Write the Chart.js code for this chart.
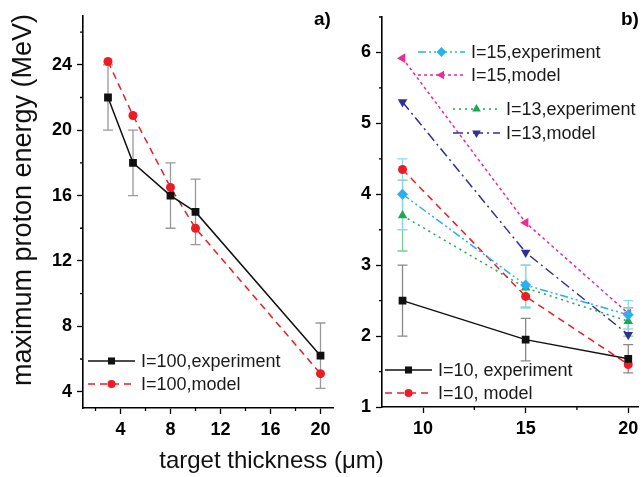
<!DOCTYPE html>
<html>
<head>
<meta charset="utf-8">
<script src="https://cdn.jsdelivr.net/npm/chart.js@4.4.1/dist/chart.umd.min.js"></script>
<style>
body { margin: 0; background: #fff; }
#wrap { position: relative; width: 644px; height: 477px; overflow: hidden; font-family: "Liberation Sans", Arial, sans-serif; }
#cA { position: absolute; left: 0; top: 0; }
#cB { position: absolute; left: 340px; top: 0; }
.tag { position: absolute; top: 8px; font-weight: bold; font-size: 19px; color: #000; }
#xtitle { position: absolute; left: 0; width: 543px; top: 446px; text-align: center; font-size: 24px; color: #111; }
#ytitle { position: absolute; left: 22px; top: 200px; width: 400px; margin-left: -200px; margin-top: -16px;
          line-height: 32px; text-align: center; font-size: 27px; color: #111; transform: rotate(-90deg); }
</style>
</head>
<body>
<div id="wrap">
  <canvas id="cA" width="340" height="477"></canvas>
  <canvas id="cB" width="304" height="477"></canvas>
  <div class="tag" style="left:314px">a)</div>
  <div class="tag" style="left:621px">b)</div>
  <div id="xtitle">target thickness (&mu;m)</div>
  <div id="ytitle">maximum proton energy (MeV)</div>
</div>
<script>
// panel a) : I=100
const thickA = [3, 5, 8, 10, 20];
const expA = [22, 18, 16, 15, 6.2];
const expA_lo = [20, 16, 14, 13, 4.2];
const expA_hi = [24, 20, 18, 17, 8.2];
const modelA = [24.2, 20.9, 16.5, 14, 5.1];
const xTicksA = [2, 4, 6, 8, 10, 12, 14, 16, 18, 20];
const xLabelsA = [4, 8, 12, 16, 20];
const yTicksA = [4, 6, 8, 10, 12, 14, 16, 18, 20, 22, 24, 26];
const yLabelsA = [4, 8, 12, 16, 20, 24];

// panel b) : I=10, 13, 15
const thickB = [9, 15, 20];
const exp10 = [2.5, 1.95, 1.68];
const exp10_lo = [2.0, 1.65, 1.48];
const exp10_hi = [3.0, 2.25, 1.88];
const model10 = [4.35, 2.56, 1.6];
const exp15 = [4.0, 2.72, 2.3];
const exp15_lo = [3.5, 2.41, 2.1];
const exp15_hi = [4.5, 3.0, 2.5];
const model15 = [5.92, 3.6, 2.32];
const exp13 = [3.7, 2.68, 2.21];
const exp13_lo = [3.2, 2.4, 2.0];
const exp13_hi = [4.2, 3.0, 2.4];
const model13 = [5.3, 3.18, 2.02];
const xTicksB = [10, 12.5, 15, 17.5, 20];
const xLabelsB = [10, 15, 20];
const yTicksB = [1, 1.5, 2, 2.5, 3, 3.5, 4, 4.5, 5, 5.5, 6, 6.5];
const yLabelsB = [1, 2, 3, 4, 5, 6];

const FONT = '"Liberation Sans", Arial, sans-serif';

function pts(xs, ys) {
    return xs.map((x, i) => ({ x: x, y: ys[i] }));
}

function errorPlugin(sets) {
    return {
        id: 'errorBars',
        beforeDatasetsDraw(chart) {
            const ctx = chart.ctx;
            const sx = chart.scales.x, sy = chart.scales.y;
            sets.forEach(s => {
                ctx.save();
                ctx.strokeStyle = s.color;
                ctx.lineWidth = 1.3;
                s.xs.forEach((xv, i) => {
                    const px = sx.getPixelForValue(xv);
                    const top = sy.getPixelForValue(s.hi[i]);
                    const bot = sy.getPixelForValue(s.lo[i]);
                    ctx.beginPath();
                    ctx.moveTo(px, top); ctx.lineTo(px, bot);
                    ctx.moveTo(px - 5, top); ctx.lineTo(px + 5, top);
                    ctx.moveTo(px - 5, bot); ctx.lineTo(px + 5, bot);
                    ctx.stroke();
                });
                ctx.restore();
            });
        }
    };
}

// short ticks for the unlabelled values (chart.js ticks all have one length)
const minorTicks = {
    id: 'minorTicks',
    afterDraw(chart) {
        const ctx = chart.ctx;
        const sx = chart.scales.x, sy = chart.scales.y;
        const xL = chart.options.scales.x.minorVals, yL = chart.options.scales.y.minorVals;
        ctx.save();
        ctx.strokeStyle = '#000';
        ctx.lineWidth = 1.3;
        ctx.beginPath();
        xL.forEach(v => {
            const px = sx.getPixelForValue(v);
            ctx.moveTo(px, sx.top); ctx.lineTo(px, sx.top + 3);
        });
        yL.forEach(v => {
            const py = sy.getPixelForValue(v);
            ctx.moveTo(sy.right, py); ctx.lineTo(sy.right - 3, py);
        });
        ctx.stroke();
        ctx.restore();
    }
};

// hand placed legend entries (line sample + marker + text)
function legendPlugin(items) {
    return {
        id: 'placedLegend',
        afterDraw(chart) {
            const ctx = chart.ctx;
            items.forEach(it => {
                const ds = chart.data.datasets[it.ds];
                ctx.save();
                ctx.strokeStyle = ds.borderColor;
                ctx.lineWidth = 1.5;
                ctx.setLineDash(ds.borderDash || []);
                ctx.beginPath();
                ctx.moveTo(it.x, it.y); ctx.lineTo(it.x + 47, it.y);
                ctx.stroke();
                ctx.setLineDash([]);
                ctx.fillStyle = ds.pointBackgroundColor;
                ctx.strokeStyle = ds.pointBackgroundColor;
                Chart.helpers.drawPoint(ctx, {
                    pointStyle: ds.pointStyle, rotation: ds.pointRotation || 0,
                    radius: ds.pointRadius - 0.5, borderWidth: 0
                }, it.x + 23.5, it.y);
                ctx.fillStyle = '#1a1a1a';
                ctx.font = '18px ' + FONT;
                ctx.textBaseline = 'middle';
                ctx.fillText(ds.label, it.x + 53, it.y + 1);
                ctx.restore();
            });
        }
    };
}

function axis(min, max, tickVals, labelVals, fit) {
    return {
        type: 'linear', min: min, max: max,
        minorVals: tickVals.filter(v => !labelVals.includes(v)),
        afterBuildTicks: s => { s.ticks = tickVals.map(v => ({ value: v })); },
        afterFit: fit,
        grid: {
            drawOnChartArea: false, drawTicks: true, tickLength: 6, tickWidth: 1.3,
            tickColor: c => labelVals.includes(c.tick.value) ? '#000' : 'rgba(0,0,0,0)'
        },
        border: { color: '#000', width: 1.6 },
        ticks: {
            autoSkip: false, maxRotation: 0, color: '#000', padding: 5,
            font: { family: FONT, size: 18, weight: 'bold' },
            callback: v => labelVals.includes(v) ? String(v) : ''
        }
    };
}

function line(label, xs, ys, color, style, radius, dash, rot) {
    return {
        label: label, data: pts(xs, ys),
        borderColor: color, borderWidth: 1.5, borderDash: dash,
        pointStyle: style, pointRadius: radius, pointRotation: rot || 0,
        pointBackgroundColor: color, pointBorderColor: color, pointBorderWidth: 0,
        fill: false, tension: 0
    };
}

new Chart(document.getElementById('cA'), {
    type: 'scatter',
    data: {
        datasets: [
            line('I=100,experiment', thickA, expA, '#111', 'rect', 5.5, []),
            line('I=100,model', thickA, modelA, '#ED1C24', 'circle', 4.5, [7, 5])
        ]
    },
    options: {
        responsive: false, animation: false, showLine: true,
        layout: { padding: { top: 15, right: 7, left: 0, bottom: 0 } },
        plugins: { legend: { display: false }, tooltip: { enabled: false } },
        scales: {
            x: axis(1, 21, xTicksA, xLabelsA, s => { s.height = 69; }),
            y: axis(3, 27, yTicksA, yLabelsA, s => { s.width = 83; })
        }
    },
    plugins: [
        minorTicks,
        errorPlugin([{ xs: thickA, lo: expA_lo, hi: expA_hi, color: '#999' }]),
        legendPlugin([{ ds: 0, x: 88, y: 361 }, { ds: 1, x: 88, y: 384 }])
    ]
});

new Chart(document.getElementById('cB'), {
    type: 'scatter',
    data: {
        datasets: [
            line('I=10, experiment', thickB, exp10, '#111', 'rect', 5.5, []),
            line('I=15,experiment', thickB, exp15, '#27B1EE', 'rectRot', 5.5, [8, 3, 2, 3, 2, 3]),
            line('I=10, model', thickB, model10, '#ED1C24', 'circle', 4.5, [7, 5]),
            line('I=13,experiment', thickB, exp13, '#1FA84C', 'triangle', 5.5, [2, 4]),
            line('I=13,model', thickB, model13, '#2E3192', 'triangle', 5.5, [10, 4, 2, 4], 180),
            line('I=15,model', thickB, model15, '#EE2A94', 'triangle', 5.5, [3, 3], 270)
        ]
    },
    options: {
        responsive: false, animation: false, showLine: true,
        layout: { padding: { top: 17, right: 2, left: 0, bottom: 0 } },
        plugins: { legend: { display: false }, tooltip: { enabled: false } },
        scales: {
            x: axis(8, 20.5, xTicksB, xLabelsB, s => { s.height = 70; }),
            y: axis(1, 6.5, yTicksB, yLabelsB, s => { s.width = 42; })
        }
    },
    plugins: [
        minorTicks,
        errorPlugin([
            { xs: thickB, lo: exp13_lo, hi: exp13_hi, color: '#7ccb93' },
            { xs: thickB, lo: exp15_lo, hi: exp15_hi, color: '#8fd6f6' },
            { xs: thickB, lo: exp10_lo, hi: exp10_hi, color: '#888' }
        ]),
        legendPlugin([
            { ds: 1, x: 78, y: 52 },
            { ds: 5, x: 78, y: 75 },
            { ds: 3, x: 113, y: 109 },
            { ds: 4, x: 113, y: 133 },
            { ds: 0, x: 45, y: 370 },
            { ds: 2, x: 45, y: 393 }
        ])
    ]
});
</script>
</body>
</html>
